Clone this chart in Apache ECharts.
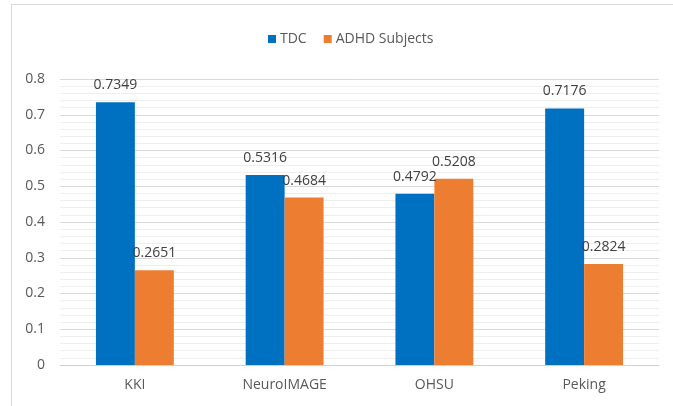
<!DOCTYPE html>
<html>
<head>
<meta charset="utf-8">
<script src="https://cdn.jsdelivr.net/npm/echarts@6/dist/echarts.min.js"></script>
<style>
  html, body { margin: 0; padding: 0; background: #fff; }
  #main { width: 673px; height: 406px; }
</style>
</head>
<body>
<div id="main"></div>
<script>
const sites = ['KKI', 'NeuroIMAGE', 'OHSU', 'Peking']
const tdc = [0.7349, 0.5316, 0.4792, 0.7176]
const adhd = [0.2651, 0.4684, 0.5208, 0.2824]

const chart = echarts.init(document.getElementById('main'))

const labelStyle = {
    show: true,
    position: 'top',
    distance: 10,
    color: '#404040',
    fontSize: 14,
    fontFamily: 'Open Sans',
    formatter: p => p.value.toFixed(4)
}

chart.setOption({
    animation: false,
    textStyle: { fontFamily: 'Open Sans' },
    graphic: [
        { type: 'line', shape: { x1: 11, y1: 4.5, x2: 673, y2: 4.5 }, style: { stroke: '#d9d9d9', lineWidth: 1 } },
        { type: 'line', shape: { x1: 11.5, y1: 4, x2: 11.5, y2: 406 }, style: { stroke: '#d9d9d9', lineWidth: 1 } }
    ],
    legend: {
        top: 27,
        left: 263,
        itemWidth: 8,
        itemHeight: 8,
        itemGap: 17,
        icon: 'rect',
        textStyle: { color: '#595959', fontSize: 14, padding: [0, 0, 0, -1] },
        data: ['TDC', 'ADHD Subjects']
    },
    grid: { left: 60, right: 14, top: 79, bottom: 41 },
    xAxis: {
        type: 'category',
        data: sites,
        axisTick: { show: false },
        axisLine: { lineStyle: { color: '#d0d0d0' } },
        axisLabel: { color: '#595959', fontSize: 14, margin: 13 }
    },
    yAxis: {
        type: 'value',
        min: 0,
        max: 0.8,
        interval: 0.1,
        axisLine: { show: false },
        axisTick: { show: false },
        axisLabel: { color: '#595959', fontSize: 14, margin: 15, formatter: v => String(+v.toFixed(1)) },
        splitLine: { lineStyle: { color: '#d9d9d9' } },
        minorTick: { show: false, splitNumber: 5 },
        minorSplitLine: { show: true, lineStyle: { color: '#eeeeee' } }
    },
    series: [
        {
            name: 'TDC',
            type: 'bar',
            data: tdc,
            barGap: '0%',
            barCategoryGap: '48%',
            itemStyle: { color: '#0070C0' },
            label: labelStyle
        },
        {
            name: 'ADHD Subjects',
            type: 'bar',
            data: adhd,
            itemStyle: { color: '#ED7D31' },
            label: labelStyle
        }
    ]
})
</script>
</body>
</html>
